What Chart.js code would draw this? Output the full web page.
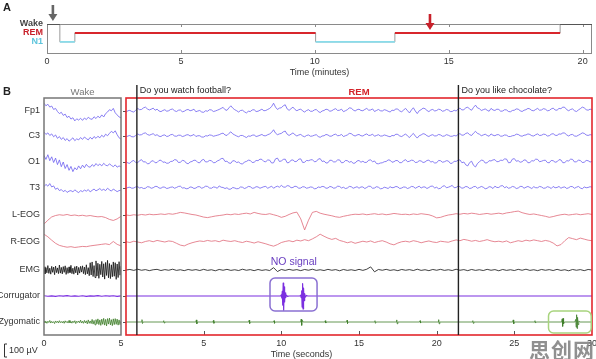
<!DOCTYPE html>
<html>
<head>
<meta charset="utf-8">
<script src="https://cdn.jsdelivr.net/npm/chart.js@4.4.0/dist/chart.umd.min.js"></script>
<style>
  body { margin: 0; background: #fff; width: 596px; height: 359px; position: relative; overflow: hidden; }
  canvas { position: absolute; }
  #mark { position: absolute; left: 529px; top: 334px; font: bold 21px "Noto Sans CJK SC", sans-serif; color: rgba(125,125,125,0.85); letter-spacing: 1px; }
</style>
</head>
<body>
<canvas id="hypno" width="596" height="80" style="left:0;top:0"></canvas>
<canvas id="wake" width="126" height="275" style="left:0;top:84px"></canvas>
<canvas id="rem" width="474" height="275" style="left:122px;top:84px"></canvas>
<div id="mark">思创网</div>
<script>
Chart.defaults.font.family = '"Liberation Sans", Arial, Helvetica, sans-serif';
Chart.defaults.color = "#333";

// ---------- panel A : hypnogram ----------
const STAGE_NAMES = ["Wake", "REM", "N1"];
const STAGE_LEVELS = [2, 1, 0];
const STAGE_TEXT_COLORS = ["#444", "#c8202a", "#5cc4dc"];
const STAGE_LINE_COLORS = { Wake: "#555", REM: "#d8262c", N1: "#8adcea" };
const HYP_TIMES = [0, 0.48, 1.04, 10.03, 12.99, 19.16, 20.35]; // minutes
const HYP_STAGES = ["Wake", "N1", "REM", "N1", "REM", "Wake"];
const MIN_TICKS = [0, 5, 10, 15, 20];
const ARROW_TIMES = [0.22, 14.3];

// ---------- panel B : polysomnography traces (µV) ----------
const CHANNELS = ["Fp1", "C3", "O1", "T3", "L-EOG", "R-EOG", "EMG", "Corrugator", "Zygomatic"];
const WAKE_TICKS = [0, 5];
const REM_TICKS = [5, 10, 15, 20, 25, 30];
const QUESTIONS = ["Do you watch football?", "Do you like chocolate?"];
const QUESTION_TIMES = [0.7, 21.4]; // seconds

// wake window, 0-5 s
const WAKE_FP1 = [60, 40, 52, 30, 38, 12, 20, -4, -20, -10, -34, -24, -50, -40, -62, -52, -76, -60, -70, -56, -72, -54, -66, -48, -60, -64, -44, -58, -40, -52, -30, -46, -20, -8, 10, 2, 20, -14, -30, -46, -52];
const WAKE_C3 = [30, 12, 24, 4, 16, -6, 8, -18, -4, -26, -12, -34, -20, -40, -28, -14, -36, -22, -30, -12, -26, -8, -20, -30, -10, -24, -4, -18, -2, -14, 6, -8, 14, 2, 20, 36, 24, 40, 10, -14, -24];
const WAKE_O1 = [50, 20, 56, 10, 40, -4, 30, -20, 16, -36, 0, -50, -20, -64, -34, -74, -44, -60, -30, -52, -24, -44, -18, -36, -40, -20, -34, -12, -28, -16, -30, -10, -24, -30, -14, -26, -36, -22, -40, -30, -38];
const WAKE_T3 = [10, 28, 14, 34, 8, 16, -10, 0, -20, -12, -28, -18, -34, -24, -20, -30, -14, -26, -36, -20, -28, -16, -24, -12, -30, -18, -8, -22, -14, -4, -18, -10, -20, -2, -14, -24, -8, -18, -28, -20, -16];
const WAKE_LEOG = [-70, -40, -15, -4, 2, -2, 4, -4, 0, -6, -2, -8, -4, -10, -14, -12, -20, -34, -42, -30, -10];
const WAKE_REOG = [60, 40, 14, -10, -26, -34, -40, -36, -42, -38, -34, -36, -30, -26, -22, -18, -14, -20, 4, -18, -30];
const WAKE_EMG = [25, -30, 18, -22, 34, -26, 14, -32, 28, -18, 22, -36, 30, -20, 16, -28, 38, -24, 20, -30,
  26, -18, 32, -34, 18, -26, 24, -20, 36, -28, 14, -32, 26, -22, 30, -38, 20, -24, 28, -16,
  32, -28, 22, -36, 40, -30, 18, -44, 56, -38, 62, -50, 34, -58, 70, -46, 52, -64, 44, -36,
  66, -54, 48, -70, 58, -42, 74, -60, 50, -66, 40, -52, 62, -48, 56, -72, 46, -58, 64, -40, 30];
const WAKE_CORR = [2, -2, 1, -3, 2, -1, 3, -2, 1, -2, 2, -3, 1, -1, 3, -2, 2, -1, 2, -3, 1];
const WAKE_ZYG = [8, -6, 4, -10, 6, -4, 12, -8, 5, -6, 3, -12, 8, -4, 6, -8, 10, -5, 4, -7,
  6, -10, 9, -4, 5, -8, 12, -6, 4, -9, 7, -5, 10, -12, 6, -4, 8, -6, 14, -8,
  6, -10, 12, -7, 9, -14, 16, -10, 8, -12, 20, -16, 12, -22, 18, -14, 24, -20, 16, -26,
  22, -18, 28, -24, 20, -30, 26, -16, 30, -22, 18, -28, 24, -20, 26, -18, 22, -24, 16, -20, 10];

// REM window, 0-30 s (EEG every 0.125 s)
const REM_FP1 = [-10, 2, 5, -4, -8, 6, 20, 10, 12, 24, 30, 16, 8, 14, 22, 6, 14, 0, -5, 4, 10, -2, 2, 12,
  15, 2, -4, 6, 8, -6, -2, 8, 12, 2, 6, 14, -6, 0, 4, -8, -10, 2, -2, 10, 8, -4, 0, 6,
  12, 20, 28, 10, 5, 24, 40, 22, 10, 2, -8, 4, 6, -6, -15, -2, -4, 8, 10, -4, -2, 6, 14, 2,
  4, 12, 20, 34, 60, 30, 12, 22, 25, 40, 48, 16, 5, 18, 30, 12, 2, 10, 15, 0, -8, 4, 10, -2,
  -2, 8, 12, -4, -12, 0, 4, 14, 10, -2, 2, 12, 18, 4, 6, 14, -5, 2, 10, 24, 22, 8, 0, 10,
  14, 4, 2, 12, 20, 6, 8, 16, -4, 4, 12, 2, 0, 10, 6, -2, -8, 6, 4, 16, 14, 0, -6, 8,
  20, 2, -15, 8, 25, 0, -20, 2, 10, 22, 18, 4, -5, 8, 12, 0, 4, 14, 10, -2, 2, 12, 8, -4,
  -4, 6, 0, 14, 22, 8, 10, 24, 30, 14, 6, 28, 45, 24, 18, 4, 10, 16, 6, -2, 20, 8, 4, 14,
  12, -2, 0, 10, 8, -4, -6, 4, 6, 16, 14, 2, -4, 6, 10, 20, 16, 4, 2, 12, 20, 6, 8, 18,
  14, 2, 4, 16, 22, 8, 6, 20, 18, 30, 28, 10, 2, 12, 16, 2, -4, 8, 18, 30, 24, 10, 6, 14, 10];
const REM_C3 = [-8, 0, 4, -6, -6, 4, 16, 8, 10, 20, 24, 12, 6, 12, 18, 4, 10, -2, -4, 6, 8, -4, 0, 10,
  12, 0, -2, 6, 6, -4, 0, 8, 10, 0, 4, 12, -4, 2, 2, -8, -8, 2, 0, 8, 6, -2, 2, 6,
  10, 18, 22, 8, 4, 20, 32, 16, 8, 0, -6, 4, 4, -4, -12, 0, -2, 6, 8, -4, 0, 6, 12, 2,
  2, 10, 16, 28, 48, 22, 10, 16, 20, 32, 38, 14, 4, 14, 24, 10, 0, 8, 12, 0, -6, 4, 8, -2,
  0, 6, 10, -4, -10, 0, 2, 12, 8, -2, 0, 10, 14, 2, 4, 12, -4, 2, 8, 20, 18, 6, 0, 8,
  12, 2, 0, 10, 16, 4, 6, 14, -2, 4, 10, 0, 0, 8, 4, -2, -6, 4, 2, 14, 12, 0, -4, 6,
  16, 0, -12, 6, 20, 0, -16, 2, 8, 18, 14, 2, -4, 6, 10, 0, 2, 12, 8, -2, 0, 10, 6, -2,
  -2, 4, 0, 12, 18, 6, 8, 20, 24, 10, 4, 22, 36, 20, 14, 2, 8, 14, 4, -2, 16, 6, 2, 10,
  10, -2, 0, 8, 6, -4, -4, 2, 4, 14, 12, 2, -2, 6, 8, 16, 12, 2, 0, 10, 16, 4, 6, 14,
  12, 0, 2, 14, 18, 6, 4, 16, 14, 24, 22, 8, 0, 10, 12, 0, -2, 6, 14, 24, 20, 8, 4, 10, 8];
const REM_O1 = [4, -8, -10, 6, 12, -4, -6, 10, 18, 0, 2, -14, -12, 6, 10, -6, -4, 12, 14, -2, 0, -10, -8, 4,
  6, 18, 16, -4, -2, 12, 10, -8, -14, 0, 4, 14, 12, -4, -6, 14, 20, 0, 2, 12, 10, -6, -4, 8,
  14, 26, 28, 4, 6, -8, -10, 10, 8, -4, 0, -12, -16, 0, 4, 14, 12, -4, -2, 12, 10, 22, 20, 4,
  2, 16, 14, -8, -6, 24, 30, 4, 8, 20, 22, -6, -4, 14, 16, 2, 6, 22, 24, -4, -2, 12, 10, 16,
  18, 2, 4, 22, 26, 4, 8, -8, -6, 14, 12, 0, 2, 16, 16, -6, -4, 12, 10, -2, 4, -10, -8, 8,
  12, -2, 6, -4, -2, 14, 16, 2, 8, -12, -14, -8, -6, 2, 4, 16, 14, -2, 2, 12, 10, -6, -4, 10,
  18, 2, 6, 14, 12, -4, -2, 10, 8, -4, 0, 12, 14, 0, 4, -8, -6, 12, 10, -2, 2, 10, 8, -10,
  -10, 6, 4, 14, 16, -6, 0, -22, -30, -4, 6, -26, -38, -12, 2, 14, 12, -8, -6, 10, 8, 16, 18, 2,
  4, 14, 12, 24, 22, -6, -4, 22, 26, 6, 10, -2, 2, 16, 14, -6, -4, 10, 8, 22, 20, 2, 6, 12,
  14, -4, -6, 12, 10, -2, 2, 18, 16, -6, -4, 10, 8, 22, 20, 0, 2, 14, 12, -4, -2, 12, 10, 0, 4];
const REM_T3 = [-4, 4, 6, -2, 0, 8, 10, 0, 4, -4, -2, 10, 8, -2, 2, 12, 12, 0, -2, 8, 6, -4, 0, 6,
  8, -2, 4, 12, 14, 0, 2, -6, -4, 8, 6, -4, 0, 10, 10, -2, 4, 14, 12, 0, -2, 8, 6, -2,
  16, 6, 4, -4, 2, -10, -8, 4, 0, -6, -4, 8, 6, -4, 2, 12, 10, -2, 0, 10, 8, -2, 4, 10,
  12, -2, 6, 14, -2, 8, 14, 6, 20, 8, 6, 18, 16, 2, 4, 14, 10, -2, 0, 10, 8, -2, 2, 8,
  6, -6, -4, 8, 4, 12, 10, -2, 0, 12, 8, -2, 2, 14, 12, 0, 6, -4, 0, 12, 10, -2, 4, 10,
  -2, 8, 8, -4, 4, 14, 12, -2, 0, 10, 6, -6, -4, 6, 2, -4, 10, 2, 4, 12, 8, -4, 0, 8,
  6, -4, 2, 12, 10, -2, 6, 14, 0, 8, 8, -4, 4, 14, 14, 0, 6, -6, -2, 12, 18, 2, 6, 12,
  20, 2, 4, 14, 10, -2, 2, 12, 8, -4, 0, 10, 12, -2, 4, 12, 6, -6, -2, 10, 8, -4, 14, 4,
  4, 16, 18, 2, 10, -2, 2, 12, 8, -4, 0, 12, 12, -2, 6, 12, 4, -4, 10, 2, 2, 12, 8, -2,
  0, 10, 6, -4, 12, 2, 4, 12, -2, 6, 8, -4, 2, 12, 10, -2, 6, 12, 0, -6, 8, 2, 4, 10, 6];
// EOG / EMG every 0.25 s
const REM_LEOG = [0, -4, 2, -2, 4, 0, 6, 2, 4, 8, 4, 10,
  6, 12, 20, 16, 10, 4, 0, -8, -16, -20, -14, -8,
  -4, 0, 6, 2, 8, 4, 10, 14, 8, 20, 12, 6,
  4, 10, 2, -6, -18, -10, 4, 16, 22, -30, -115, -40,
  20, 28, 14, 6, 0, -6, -14, -18, -10, -4, 2, 6,
  4, 8, 2, 6, 10, 4, 8, 2, 6, 12, 8, 4,
  6, 2, 8, 4, 10, 6, 2, -8, -22, -18, -8, 0,
  4, 10, 6, 12, 8, 14, 10, 4, 8, 12, 6, 10,
  14, 8, 16, 20, 26, 30, 18, 10, 4, 8, 2, -4,
  -10, -18, -12, -4, 2, 6, 0, 4, 8, 2, 6, 10, 4];
const REM_REOG = [2, -4, 6, 0, -6, 4, 10, 2, 12, 6, 0, 8,
  4, -10, -24, -30, -16, -6, 2, 8, 4, 12, 6, 10,
  2, 14, 8, 4, 10, 2, -4, 6, 0, -8, 2, -6,
  -14, -24, -32, -20, -4, 4, 10, 2, 14, 8, 18, 10,
  24, 40, 60, 44, 30, 20, 28, 12, 4, -6, 2, -10,
  -2, 6, 0, 8, -4, 4, 10, 0, -14, -22, -8, 2,
  6, 0, 10, 4, -6, 2, 8, 0, -4, 6, 2, -2,
  8, 16, 10, 20, 14, 6, 12, 4, 10, 18, 8, 2,
  6, 0, 8, -6, 2, 10, 4, 14, 8, 16, 10, 4,
  12, 6, -8, -30, -20, 10, 34, 26, 18, 30, 22, 14, 10];
const REM_EMG = [0, 4, -3, 6, -2, 3, -5, 2, 5, -4, 3, -2,
  6, -3, 2, -5, 4, -2, 3, -4, 5, -3, 2, -6,
  4, -2, 5, -3, 2, -4, 6, -2, 3, -5, 4, -3,
  2, -4, 18, -12, 4, -3, 5, -2, 3, -5, 4, -2,
  6, -3, 2, -4, 5, -2, 3, -6, 4, -3, 2, -4,
  5, -3, 6, 24, -14, 4, -2, 5, -3, 2, -5, 4,
  -2, 3, -4, 6, -3, 2, -5, 4, -2, 5, -3, 2,
  -4, 6, -2, 3, -5, 4, -3, 2, -4, 5, -2, 3,
  -6, 4, -3, 2, -4, 5, -2, 6, -3, 2, -5, 4,
  -2, 3, -4, 5, -3, 2, -6, 4, -2, 3, -5, 4, 0];
// [seconds, µV] pairs, the corrugator/zygomatic bursts are narrow
const REM_CORR = [[0, 0], [9.95, 0], [10.0, 8], [10.03, -15], [10.06, 35], [10.09, -70], [10.12, 100], [10.15, -110], [10.18, 70], [10.21, -45], [10.24, 25], [10.28, -12], [10.33, 6], [10.4, -3], [10.5, 0],
  [11.2, 0], [11.25, 6], [11.28, -12], [11.31, 40], [11.34, -85], [11.37, 95], [11.4, -100], [11.43, 60], [11.46, -35], [11.5, 18], [11.55, -8], [11.62, 4], [11.7, 0], [30, 0]];
const REM_ZYG = [[0, 0], [1.0, 0], [1.03, 18], [1.06, -12], [1.1, 0],
  [2.4, 0], [2.43, 10], [2.46, -8], [2.5, 0],
  [4.5, 0], [4.53, 16], [4.56, -14], [4.6, 0],
  [5.6, 0], [5.63, 12], [5.66, -10], [5.7, 0],
  [7.9, 0], [7.93, 14], [7.96, -12], [8.0, 0],
  [9.5, 0], [9.53, 10], [9.56, -10], [9.6, 0],
  [11.25, 0], [11.28, 22], [11.31, -26], [11.34, 14], [11.4, 0],
  [12.8, 0], [12.83, 10], [12.86, -8], [12.9, 0],
  [14.2, 0], [14.23, 14], [14.26, -12], [14.3, 0],
  [16.0, 0], [16.03, 10], [16.06, -10], [16.1, 0],
  [17.4, 0], [17.43, 16], [17.46, -14], [17.5, 0],
  [18.9, 0], [18.93, 10], [18.96, -8], [19.0, 0],
  [20.1, 0], [20.13, 18], [20.16, -14], [20.2, 0],
  [22.3, 0], [22.33, 10], [22.36, -10], [22.4, 0],
  [24.9, 0], [24.93, 16], [24.96, -14], [25.0, 0],
  [26.3, 0], [26.33, 10], [26.36, -8], [26.4, 0],
  [28.05, 0], [28.08, 24], [28.11, -34], [28.14, 28], [28.17, -14], [28.22, 0],
  [28.9, 0], [28.95, 20], [28.98, -40], [29.01, 56], [29.04, -50], [29.07, 36], [29.1, -20], [29.15, 8], [29.22, 0],
  [30, 0]];

// ---------- layout / style ----------
const FONT = '"Liberation Sans", Arial, sans-serif';
const GAIN = 0.13;            // px per µV
const BOX_H = 237;            // height of panel B boxes, px
const ROW_Y = [13, 38, 64, 90, 117, 144, 172, 198, 224];
const TRACE_COLORS = ["#6c5ff0", "#6c5ff0", "#6c5ff0", "#6c5ff0", "#e06a78", "#e06a78", "#111", "#7b2fe0", "#3f7f2a"];
const TRACE_WIDTHS = [0.8, 0.8, 0.8, 0.8, 0.8, 0.8, 0.8, 1.2, 0.8];

function traceData(values, span, row) {
  const dt = span / (values.length - 1);
  return values.map((v, i) => ({ x: i * dt, y: row - v * GAIN }));
}
function pairData(pairs, row) {
  return pairs.map(([t, v]) => ({ x: t, y: row - v * GAIN }));
}
function traceSet(data, c) {
  return { data, borderColor: TRACE_COLORS[c], borderWidth: TRACE_WIDTHS[c], pointRadius: 0, tension: 0, borderJoinStyle: "round", fill: false };
}
// force scale box sizes so the plot areas land where the figure has them
function fixBox(w, h) {
  return (s) => {
    if (w != null) s.width = w;
    if (h != null) s.height = h;
    s.paddingLeft = s.paddingRight = s.paddingTop = s.paddingBottom = 0;
  };
}
const noGrid = { display: false, drawTicks: false };
const baseOptions = {
  responsive: false, animation: false, devicePixelRatio: 1,
  plugins: { legend: { display: false }, tooltip: { enabled: false } },
  elements: { point: { radius: 0 }, line: { tension: 0 } },
};

// ---------- A ----------
const levelOf = (name) => STAGE_LEVELS[STAGE_NAMES.indexOf(name)];
const hypSteps = HYP_TIMES.map((t, i) => ({ x: t, y: levelOf(HYP_STAGES[Math.min(i, HYP_STAGES.length - 1)]) }));
const hypDatasets = [];
["Wake", "REM", "N1"].forEach((stage) => {
  const pts = [];
  HYP_STAGES.forEach((s, i) => {
    if (s !== stage) return;
    pts.push({ x: HYP_TIMES[i], y: levelOf(s) }, { x: HYP_TIMES[i + 1], y: levelOf(s) }, { x: HYP_TIMES[i + 1], y: null });
  });
  hypDatasets.push({ data: pts, borderColor: STAGE_LINE_COLORS[stage], borderWidth: stage === "N1" ? 1.6 : 2, pointRadius: 0, spanGaps: false });
});
hypDatasets.push({ data: hypSteps, stepped: true, borderColor: "#9a9a9a", borderWidth: 1, pointRadius: 0 });

function arrow(ctx, px, yTop, yTip, color) {
  ctx.strokeStyle = color; ctx.fillStyle = color; ctx.lineWidth = 2.6;
  ctx.beginPath(); ctx.moveTo(px, yTop); ctx.lineTo(px, yTip - 6); ctx.stroke();
  ctx.beginPath(); ctx.moveTo(px - 4.5, yTip - 7); ctx.lineTo(px + 4.5, yTip - 7); ctx.lineTo(px, yTip); ctx.closePath(); ctx.fill();
}

const hypnoDecor = {
  id: "hypnoDecor",
  beforeDatasetsDraw(chart) {
    const { ctx, chartArea: a, scales: { x } } = chart;
    ctx.save();
    ctx.strokeStyle = "#8a8a8a"; ctx.lineWidth = 1;
    ctx.strokeRect(a.left + 0.5, a.top + 0.5, a.right - a.left - 1, a.bottom - a.top);
    ctx.beginPath();
    MIN_TICKS.slice(1).forEach((v) => {
      const px = Math.round(x.getPixelForValue(v)) + 0.5;
      ctx.moveTo(px, a.top); ctx.lineTo(px, a.top + 3);
      ctx.moveTo(px, a.bottom); ctx.lineTo(px, a.bottom - 3);
    });
    ctx.stroke();
    ctx.restore();
  },
  afterDraw(chart) {
    const { ctx, chartArea: a, scales: { x, y } } = chart;
    ctx.save();
    arrow(ctx, x.getPixelForValue(ARROW_TIMES[0]), 5, a.top - 3, "#666");
    arrow(ctx, x.getPixelForValue(ARROW_TIMES[1]), 14, y.getPixelForValue(levelOf("REM")) - 3, "#c8202a");
    ctx.fillStyle = "#222"; ctx.font = "bold 11px " + FONT; ctx.textBaseline = "middle";
    ctx.fillText("A", 3, 8);
    ctx.restore();
  },
};

new Chart(document.getElementById("hypno"), {
  type: "line",
  data: { datasets: hypDatasets },
  options: {
    ...baseOptions,
    layout: { padding: { left: 0, top: 24, right: 4, bottom: 0 } },
    scales: {
      x: {
        type: "linear", min: 0, max: 20.35, grid: noGrid, border: { display: false },
        afterBuildTicks: (s) => { s.ticks = MIN_TICKS.map((v) => ({ value: v })); },
        afterFit: fixBox(null, 27),
        ticks: { font: { size: 9 }, padding: 3, maxRotation: 0, color: "#333" },
        title: { display: true, text: "Time (minutes)", font: { size: 9 }, color: "#333", padding: { top: 0, bottom: 2 } },
      },
      y: {
        type: "linear", min: -1.25, max: 2, grid: noGrid, border: { display: false },
        afterBuildTicks: (s) => { s.ticks = STAGE_LEVELS.map((v) => ({ value: v })); },
        afterFit: fixBox(47, null),
        ticks: { padding: 4, font: { size: 9, weight: "bold" }, color: (c) => STAGE_TEXT_COLORS[c.index], callback: (v, i) => STAGE_NAMES[i] },
      },
    },
  },
  plugins: [hypnoDecor],
});

// ---------- B : wake ----------
const wakeSeries = [WAKE_FP1, WAKE_C3, WAKE_O1, WAKE_T3, WAKE_LEOG, WAKE_REOG, WAKE_EMG, WAKE_CORR, WAKE_ZYG];
const wakeDatasets = wakeSeries.map((vals, c) => traceSet(traceData(vals, 5, ROW_Y[c]), c));

const wakeDecor = {
  id: "wakeDecor",
  afterDatasetsDraw(chart) {
    const { ctx, chartArea: a, scales: { y } } = chart;
    ctx.save();
    ctx.strokeStyle = "#777"; ctx.lineWidth = 1.5;
    ctx.strokeRect(a.left, a.top, a.right - a.left, a.bottom - a.top);
    ctx.fillStyle = "#777"; ctx.font = "9.5px " + FONT; ctx.textAlign = "center"; ctx.textBaseline = "middle";
    ctx.fillText("Wake", (a.left + a.right) / 2, a.top - 6);
    ctx.fillStyle = "#222"; ctx.font = "bold 11px " + FONT; ctx.textAlign = "left";
    ctx.fillText("B", 3, 8);
    // 100 µV scale bar
    const y0 = y.getPixelForValue(BOX_H + 9), y1 = y.getPixelForValue(BOX_H + 9 + 100 * GAIN);
    ctx.strokeStyle = "#333"; ctx.lineWidth = 1;
    ctx.beginPath(); ctx.moveTo(7, y0); ctx.lineTo(4.5, y0); ctx.lineTo(4.5, y1); ctx.lineTo(7, y1); ctx.stroke();
    ctx.fillStyle = "#333"; ctx.font = "9px " + FONT;
    ctx.fillText("100 \u00b5V", 9, (y0 + y1) / 2);
    ctx.restore();
  },
};

new Chart(document.getElementById("wake"), {
  type: "line",
  data: { datasets: wakeDatasets },
  options: {
    ...baseOptions,
    layout: { padding: { left: 0, top: 14, right: 5, bottom: 0 } },
    scales: {
      x: {
        type: "linear", min: 0, max: 5, grid: noGrid, border: { display: false },
        afterBuildTicks: (s) => { s.ticks = WAKE_TICKS.map((v) => ({ value: v })); },
        afterFit: fixBox(null, 24),
        ticks: { font: { size: 9 }, padding: 3, maxRotation: 0, color: "#333" },
      },
      y: {
        type: "linear", min: 0, max: BOX_H, reverse: true, grid: noGrid, border: { display: false },
        afterBuildTicks: (s) => { s.ticks = ROW_Y.map((v) => ({ value: v })); },
        afterFit: fixBox(44, null),
        ticks: { padding: 4, autoSkip: false, font: { size: 9 }, color: "#333", callback: (v, i) => CHANNELS[i] },
      },
    },
  },
  plugins: [wakeDecor],
});

// ---------- B : REM ----------
const remSeries = [REM_FP1, REM_C3, REM_O1, REM_T3, REM_LEOG, REM_REOG, REM_EMG];
const remDatasets = remSeries.map((vals, c) => traceSet(traceData(vals, 30, ROW_Y[c]), c));
remDatasets.push(traceSet(pairData(REM_CORR, ROW_Y[7]), 7));
remDatasets.push(traceSet(pairData(REM_ZYG, ROW_Y[8]), 8));

function roundBox(ctx, x0, y0, x1, y1, r, color) {
  ctx.strokeStyle = color; ctx.lineWidth = 1.5;
  ctx.beginPath(); ctx.roundRect(x0, y0, x1 - x0, y1 - y0, r); ctx.stroke();
}

const remDecor = {
  id: "remDecor",
  afterDatasetsDraw(chart) {
    const { ctx, chartArea: a, scales: { x, y } } = chart;
    ctx.save();
    // row ticks on the left edge, time ticks on the bottom edge
    ctx.strokeStyle = "#555"; ctx.lineWidth = 1;
    ctx.beginPath();
    ROW_Y.forEach((r) => { const py = Math.round(y.getPixelForValue(r)) + 0.5; ctx.moveTo(a.left - 3, py); ctx.lineTo(a.left, py); });
    REM_TICKS.slice(0, -1).forEach((v) => { const px = Math.round(x.getPixelForValue(v)) + 0.5; ctx.moveTo(px, a.bottom); ctx.lineTo(px, a.bottom - 4); });
    ctx.stroke();
    // red REM frame
    ctx.strokeStyle = "#e3262c"; ctx.lineWidth = 1.6;
    ctx.strokeRect(a.left, a.top, a.right - a.left, a.bottom - a.top);
    ctx.fillStyle = "#d42229"; ctx.font = "bold 9.5px " + FONT; ctx.textAlign = "center"; ctx.textBaseline = "middle";
    ctx.fillText("REM", (a.left + a.right) / 2, a.top - 6);
    // question markers
    ctx.strokeStyle = "#222"; ctx.lineWidth = 1.4; ctx.fillStyle = "#222"; ctx.font = "9px " + FONT; ctx.textAlign = "left";
    QUESTION_TIMES.forEach((t, i) => {
      const px = x.getPixelForValue(t);
      ctx.beginPath(); ctx.moveTo(px, 1); ctx.lineTo(px, a.bottom); ctx.stroke();
      ctx.fillText(QUESTIONS[i], px + 3, 7);
    });
    // highlighted EMG responses
    roundBox(ctx, x.getPixelForValue(9.27), y.getPixelForValue(180), x.getPixelForValue(12.3), y.getPixelForValue(213), 5, "#8a70d2");
    roundBox(ctx, x.getPixelForValue(27.2), y.getPixelForValue(213), x.getPixelForValue(29.95), y.getPixelForValue(235), 5, "#a8d47e");
    ctx.fillStyle = "#6a3fc0"; ctx.font = "10.5px " + FONT; ctx.textAlign = "center";
    ctx.fillText("NO signal", x.getPixelForValue(10.8), y.getPixelForValue(164));
    ctx.fillStyle = "#333"; ctx.font = "9px " + FONT;
    ctx.fillText("Time (seconds)", x.getPixelForValue(11.3), a.bottom + 20);
    ctx.restore();
  },
};

new Chart(document.getElementById("rem"), {
  type: "line",
  data: { datasets: remDatasets },
  options: {
    ...baseOptions,
    layout: { padding: { left: 4, top: 14, right: 4, bottom: 0 } },
    scales: {
      x: {
        type: "linear", min: 0, max: 30, grid: noGrid, border: { display: false },
        afterBuildTicks: (s) => { s.ticks = REM_TICKS.map((v) => ({ value: v })); },
        afterFit: fixBox(null, 24),
        ticks: { font: { size: 9 }, padding: 3, maxRotation: 0, color: "#333" },
      },
      y: { type: "linear", min: 0, max: BOX_H, reverse: true, display: false },
    },
  },
  plugins: [remDecor],
});
</script>
</body>
</html>
